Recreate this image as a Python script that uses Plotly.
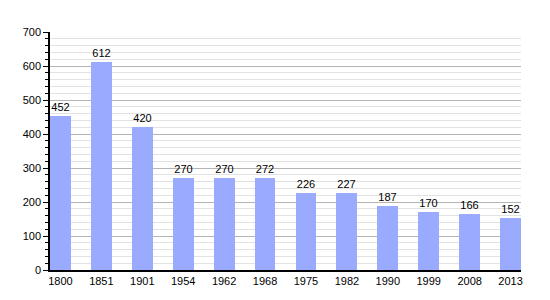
import plotly.graph_objects as go

years = ["1800", "1851", "1901", "1954", "1962", "1968", "1975", "1982", "1990", "1999", "2008", "2013"]
population = [452, 612, 420, 270, 270, 272, 226, 227, 187, 170, 166, 152]

fig = go.Figure()
fig.add_trace(go.Bar(
    x=years, y=population,
    width=0.51,
    marker=dict(color="#99aaff", line=dict(width=0)),
    text=[str(v) for v in population],
    textposition="outside",
    textfont=dict(family="Liberation Sans, Arial", size=11, color="#000"),
    cliponaxis=False,
))
fig.update_layout(
    width=550, height=300,
    margin=dict(l=50, r=29, t=32, b=30),
    plot_bgcolor="white", paper_bgcolor="white",
    showlegend=False,
    font=dict(family="Liberation Sans, Arial", size=11, color="#000"),
    bargap=0,
)
fig.update_xaxes(
    type="category", range=[-0.255, 11.255],
    showline=True, linecolor="#000", linewidth=1.5,
    ticks="", showgrid=False,
    tickfont=dict(size=11),
)
fig.update_yaxes(
    range=[0, 700], dtick=100,
    showline=True, linecolor="#000", linewidth=1.5,
    ticks="outside", ticklen=5, tickcolor="#000", tickwidth=1,
    gridcolor="#b4b4b4", gridwidth=1,
    zeroline=False,
    minor=dict(dtick=20, ticks="outside", ticklen=3, tickcolor="#000",
               showgrid=True, gridcolor="#e2e2e2", gridwidth=1),
    tickfont=dict(size=11),
)
fig.write_html("out.html")
